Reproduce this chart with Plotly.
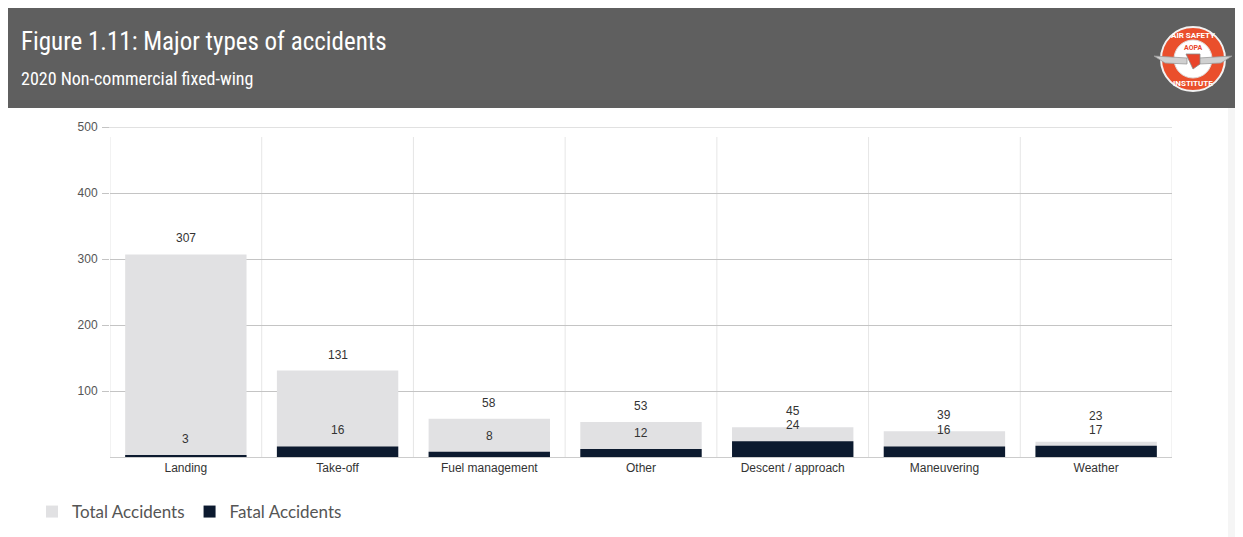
import plotly.graph_objects as go

categories = ["Landing", "Take-off", "Fuel management", "Other",
              "Descent / approach", "Maneuvering", "Weather"]
total_accidents = [307, 131, 58, 53, 45, 39, 23]
fatal_accidents = [3, 16, 8, 12, 24, 16, 17]
y_ticks = [100, 200, 300, 400, 500]

W, H = 1243, 537
OFF = 8                       # page margin of the browser body
L, R, T, B = 110, 1172, 127, 457  # plot area in screenshot pixels
Y_MAX = 500
PX_PER_UNIT = (B - T) / Y_MAX


def px(x):
    return (x - L) / (R - L)


def py(y):
    return (B - y) / (B - T)


label_font = dict(family="Liberation Sans, Arial", size=12, color="#333333")

fig = go.Figure()
fig.add_trace(go.Bar(
    name="Total Accidents", x=categories, y=total_accidents,
    marker=dict(color="#e1e1e3", line=dict(width=0)), width=0.8,
))
fig.add_trace(go.Bar(
    name="Fatal Accidents", x=categories, y=fatal_accidents,
    marker=dict(color="#0c1a2f", line=dict(width=0)), width=0.8,
))

annotations = []
min_gap_units = 14 / PX_PER_UNIT
for cat, tot, fat in zip(categories, total_accidents, fatal_accidents):
    annotations.append(dict(x=cat, y=fat, xref="x", yref="y", text=str(fat),
                            showarrow=False, yanchor="bottom", yshift=7, font=label_font))
    annotations.append(dict(x=cat, y=max(tot, fat + min_gap_units), xref="x", yref="y",
                            text=str(tot), showarrow=False, yanchor="bottom", yshift=7,
                            font=label_font))

shapes = []
# header band
shapes.append(dict(type="rect", xref="paper", yref="paper",
                   x0=px(6), x1=px(W + OFF), y0=py(108), y1=py(8),
                   fillcolor="#5f5f5f", line=dict(width=0), layer="below"))
# right faint strip
shapes.append(dict(type="rect", xref="paper", yref="paper",
                   x0=px(1228), x1=px(W + OFF), y0=py(H + OFF), y1=py(108),
                   fillcolor="#f5f5f5", line=dict(width=0), layer="below"))
# vertical category separators
for i in range(len(categories) + 1):
    shapes.append(dict(type="line", xref="x", yref="paper",
                       x0=i - 0.5, x1=i - 0.5, y0=0, y1=py(137),
                       line=dict(color="#e6e6e6", width=1), layer="below"))
# top gridline (at the range edge)
shapes.append(dict(type="line", xref="paper", yref="y", x0=px(103), x1=1, y0=Y_MAX, y1=Y_MAX,
                   line=dict(color="#c4c4c4", width=1), layer="below"))

# logo
cx, cy, r = 1193, 59, 32
shapes.append(dict(type="circle", xref="paper", yref="paper",
                   x0=px(cx - r), x1=px(cx + r), y0=py(cy + r), y1=py(cy - r),
                   fillcolor="#ea4f2c", line=dict(color="#f2f2f2", width=2)))
shapes.append(dict(type="circle", xref="paper", yref="paper",
                   x0=px(cx - 19), x1=px(cx + 19), y0=py(cy + 19), y1=py(cy - 19),
                   fillcolor="#ffffff", line=dict(color="#dddddd", width=1)))
for sgn in (-1, 1):
    shapes.append(dict(type="path", xref="paper", yref="paper",
                       path="M {},{} L {},{} L {},{} L {},{} Z".format(
                           px(cx + sgn * 39), py(cy - 3), px(cx + sgn * 6), py(cy - 1),
                           px(cx + sgn * 6), py(cy + 5), px(cx + sgn * 28), py(cy + 4)),
                       fillcolor="#d0d0d0", line=dict(color="#9a9a9a", width=0.8)))
shapes.append(dict(type="path", xref="paper", yref="paper",
                   path="M {},{} L {},{} L {},{} L {},{} Z".format(
                       px(cx - 7), py(cy - 5), px(cx + 7), py(cy - 5),
                       px(cx + 7), py(cy + 5), px(cx), py(cy + 10)),
                   fillcolor="#e8452c", line=dict(color="#8a8a8a", width=0.8)))

hdr_font = "Roboto Condensed, Liberation Sans Narrow, Roboto"
annotations += [
    dict(text="Figure 1.11: Major types of accidents", xref="paper", yref="paper",
         x=px(19), y=py(41), xanchor="left", yanchor="middle", showarrow=False,
         font=dict(family=hdr_font, size=25, color="#ffffff")),
    dict(text="2020 Non-commercial fixed-wing", xref="paper", yref="paper",
         x=px(19), y=py(78), xanchor="left", yanchor="middle", showarrow=False,
         font=dict(family=hdr_font, size=18, color="#ffffff")),
    dict(text="<b>AIR SAFETY</b>", xref="paper", yref="paper",
         x=px(cx), y=py(cy - 24), xanchor="center", yanchor="middle", showarrow=False,
         font=dict(family="Roboto", size=8, color="#ffffff")),
    dict(text="<b>INSTITUTE</b>", xref="paper", yref="paper",
         x=px(cx), y=py(cy + 24), xanchor="center", yanchor="middle", showarrow=False,
         font=dict(family="Roboto", size=8, color="#ffffff")),
    dict(text="<b>AOPA</b>", xref="paper", yref="paper",
         x=px(cx), y=py(cy - 11), xanchor="center", yanchor="middle", showarrow=False,
         font=dict(family="Roboto", size=7, color="#e8452c")),
]

fig.update_layout(
    width=W, height=H,
    margin=dict(l=L - OFF, r=W - (R - OFF), t=T - OFF, b=H - (B - OFF), pad=0),
    paper_bgcolor="#ffffff", plot_bgcolor="#ffffff",
    barmode="overlay",
    showlegend=True,
    legend=dict(orientation="h", x=px(32), y=py(512), xanchor="left", yanchor="middle",
                font=dict(family="Lato, Open Sans", size=17, color="#555555"),
                itemwidth=30, traceorder="normal", bgcolor="rgba(0,0,0,0)"),
    xaxis=dict(showgrid=False, showline=True, linecolor="#cccccc", linewidth=1,
               ticks="", tickfont=dict(family="Liberation Sans, Arial", size=12, color="#333333"),
               range=[-0.5, len(categories) - 0.5], fixedrange=True),
    yaxis=dict(range=[0, Y_MAX], tickvals=y_ticks, showgrid=True, gridcolor="#c4c4c4",
               gridwidth=1, zeroline=False, ticks="outside", ticklen=7, tickcolor="#c4c4c4",
               tickfont=dict(family="Liberation Sans, Arial", size=12, color="#555555"),
               ticklabelstandoff=2, showline=False),
    shapes=shapes, annotations=annotations,
    font=dict(family="Liberation Sans, Arial"),
)

fig.write_html("out.html")
